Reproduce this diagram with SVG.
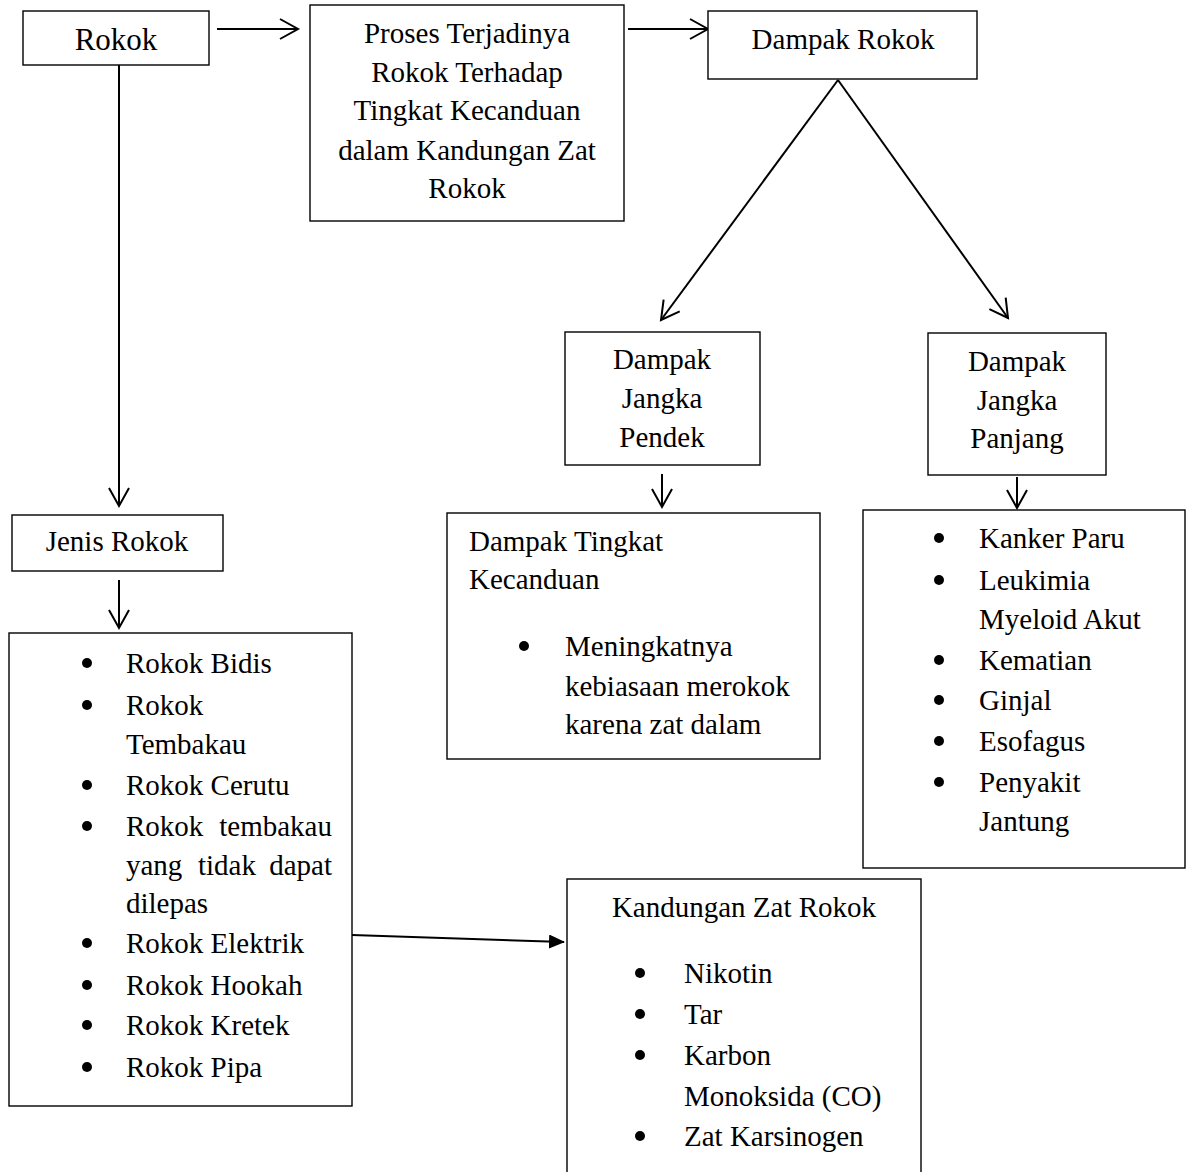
<svg xmlns="http://www.w3.org/2000/svg" width="1189" height="1172" viewBox="0 0 1189 1172">
<style>
.box{fill:#fff;stroke:#000;stroke-width:1.4}
text{font-family:"Liberation Serif","Times New Roman",serif;font-size:29px;fill:#000}
.c{text-anchor:middle}
.b circle{fill:#000}
.conn line{stroke:#000;stroke-width:2}
</style>
<defs>
<marker id="chev" markerUnits="userSpaceOnUse" markerWidth="22" markerHeight="24" refX="19" refY="11" orient="auto" viewBox="0 0 22 24">
<path d="M1,1 L19,11 L1,21" fill="none" stroke="#000" stroke-width="2"/>
</marker>
<marker id="tri" markerUnits="userSpaceOnUse" markerWidth="16" markerHeight="14" refX="15" refY="7" orient="auto" viewBox="0 0 16 14">
<path d="M0,0 L16,7 L0,14 Z" fill="#000"/>
</marker>
</defs>
<rect width="1189" height="1172" fill="#fff"/>
<g id="connectors" class="conn">
<line x1="217" y1="29" x2="298" y2="29" marker-end="url(#chev)"/>
<line x1="628" y1="29" x2="708" y2="29" marker-end="url(#chev)"/>
<line x1="838" y1="80" x2="661" y2="320" marker-end="url(#chev)"/>
<line x1="838" y1="80" x2="1008" y2="318" marker-end="url(#chev)"/>
<line x1="119" y1="65" x2="119" y2="506" marker-end="url(#chev)"/>
<line x1="119" y1="580" x2="119" y2="628" marker-end="url(#chev)"/>
<line x1="662" y1="474" x2="662" y2="507" marker-end="url(#chev)"/>
<line x1="1017" y1="477" x2="1017" y2="508" marker-end="url(#chev)"/>
<line x1="352" y1="935" x2="564" y2="942" marker-end="url(#tri)"/>
</g>
<g id="rokok">
<rect class="box" x="23" y="11" width="186" height="54"/>
<text class="c" x="116" y="50" style="font-size:31px">Rokok</text>
</g>
<g id="proses">
<rect class="box" x="310" y="5" width="314" height="216"/>
<text class="c" x="467" y="43">Proses Terjadinya</text>
<text class="c" x="467" y="82">Rokok Terhadap</text>
<text class="c" x="467" y="120">Tingkat Kecanduan</text>
<text class="c" x="467" y="160">dalam Kandungan Zat</text>
<text class="c" x="467" y="198">Rokok</text>
</g>
<g id="dampak-rokok">
<rect class="box" x="708" y="11" width="269" height="68"/>
<text class="c" x="843" y="49">Dampak Rokok</text>
</g>
<g id="jangka-pendek">
<rect class="box" x="565" y="332" width="195" height="133"/>
<text class="c" x="662" y="369">Dampak</text>
<text class="c" x="662" y="408">Jangka</text>
<text class="c" x="662" y="447">Pendek</text>
</g>
<g id="jangka-panjang">
<rect class="box" x="928" y="333" width="178" height="142"/>
<text class="c" x="1017" y="371">Dampak</text>
<text class="c" x="1017" y="410">Jangka</text>
<text class="c" x="1017" y="448">Panjang</text>
</g>
<g id="dampak-kecanduan">
<rect class="box" x="447" y="513" width="373" height="246"/>
<text x="469" y="551">Dampak Tingkat</text>
<text x="469" y="589">Kecanduan</text>
<g class="b"><circle cx="524" cy="646" r="5"/></g>
<text x="565" y="656">Meningkatnya</text>
<text x="565" y="696">kebiasaan merokok</text>
<text x="565" y="734">karena zat dalam</text>
</g>
<g id="panjang-list">
<rect class="box" x="863" y="510" width="322" height="358"/>
<g class="b">
<circle cx="939" cy="538" r="5"/>
<circle cx="939" cy="580" r="5"/>
<circle cx="939" cy="660" r="5"/>
<circle cx="939" cy="700" r="5"/>
<circle cx="939" cy="741" r="5"/>
<circle cx="939" cy="782" r="5"/>
</g>
<text x="979" y="548">Kanker Paru</text>
<text x="979" y="590">Leukimia</text>
<text x="979" y="629">Myeloid Akut</text>
<text x="979" y="670">Kematian</text>
<text x="979" y="710">Ginjal</text>
<text x="979" y="751">Esofagus</text>
<text x="979" y="792">Penyakit</text>
<text x="979" y="831">Jantung</text>
</g>
<g id="jenis-rokok">
<rect class="box" x="12" y="515" width="211" height="56"/>
<text class="c" x="117" y="551">Jenis Rokok</text>
</g>
<g id="jenis-list">
<rect class="box" x="9" y="633" width="343" height="473"/>
<g class="b">
<circle cx="87" cy="663" r="5"/>
<circle cx="87" cy="705" r="5"/>
<circle cx="87" cy="785" r="5"/>
<circle cx="87" cy="826" r="5"/>
<circle cx="87" cy="943" r="5"/>
<circle cx="87" cy="985" r="5"/>
<circle cx="87" cy="1025" r="5"/>
<circle cx="87" cy="1067" r="5"/>
</g>
<text x="126" y="673">Rokok Bidis</text>
<text x="126" y="715">Rokok</text>
<text x="126" y="754">Tembakau</text>
<text x="126" y="795">Rokok Cerutu</text>
<text x="126" y="836">Rokok</text>
<text x="332" y="836" text-anchor="end">tembakau</text>
<text x="126" y="875">yang</text>
<text x="227" y="875" class="c">tidak</text>
<text x="332" y="875" text-anchor="end">dapat</text>
<text x="126" y="913">dilepas</text>
<text x="126" y="953">Rokok Elektrik</text>
<text x="126" y="995">Rokok Hookah</text>
<text x="126" y="1035">Rokok Kretek</text>
<text x="126" y="1077">Rokok Pipa</text>
</g>
<g id="kandungan">
<rect class="box" x="567" y="879" width="354" height="310"/>
<text class="c" x="744" y="917">Kandungan Zat Rokok</text>
<g class="b">
<circle cx="640" cy="973" r="5"/>
<circle cx="640" cy="1014" r="5"/>
<circle cx="640" cy="1055" r="5"/>
<circle cx="640" cy="1136" r="5"/>
</g>
<text x="684" y="983">Nikotin</text>
<text x="684" y="1024">Tar</text>
<text x="684" y="1065">Karbon</text>
<text x="684" y="1106">Monoksida (CO)</text>
<text x="684" y="1146">Zat Karsinogen</text>
</g>
</svg>
